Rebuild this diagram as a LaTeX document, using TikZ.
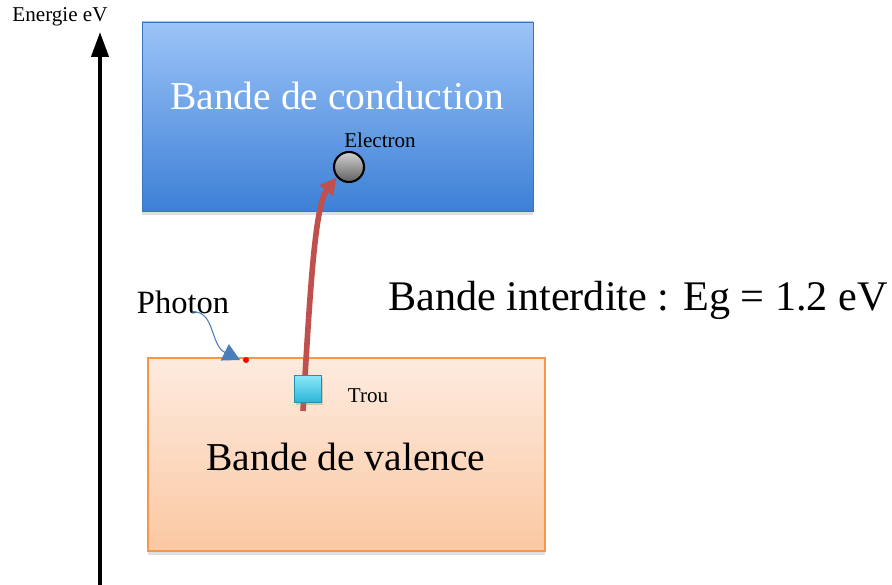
\documentclass[tikz,border=0pt]{standalone}
\usepackage{fontspec}
\setmainfont{Liberation Serif}
\usetikzlibrary{arrows.meta,shadows}

\definecolor{bleuH}{HTML}{9CC4F7}
\definecolor{bleuB}{HTML}{3D80D6}
\definecolor{bleuT}{HTML}{3A74BE}
\definecolor{orH}{HTML}{FDEBDF}
\definecolor{orB}{HTML}{FBC8A2}
\definecolor{orT}{HTML}{F79646}
\definecolor{cyH}{HTML}{8AE8F8}
\definecolor{cyB}{HTML}{2BB5D8}
\definecolor{rouge}{HTML}{C0504D}
\definecolor{bleuP}{HTML}{4A7EBB}

\begin{document}
\begin{tikzpicture}
        \tikzset{
            bc/.style={rectangle, draw=bleuT, top color=bleuH, bottom color=bleuB,
            minimum width=7.82cm, minimum height=3.78cm,
            drop shadow={opacity=0.25, shadow xshift=0pt, shadow yshift=-2pt}},
            bv/.style={rectangle, draw=orT, thick, top color=orH, bottom color=orB,
            minimum width=7.94cm, minimum height=3.86cm,
            drop shadow={opacity=0.25, shadow xshift=0pt, shadow yshift=-2pt}},
            el/.style={circle, minimum size=0.6cm, inner sep=0pt, draw=black,
            line width=1.2pt, top color=gray!35, bottom color=gray!75!black},
            tr/.style={rectangle, minimum size=0.54cm, inner sep=0pt, draw=cyB!80!black,
            top color=cyH, bottom color=cyB,
            drop shadow={opacity=0.3, shadow xshift=1pt, shadow yshift=-1.5pt}},
            petit/.style={font=\fontsize{12}{14}\selectfont, inner sep=1pt},
            grand/.style={font=\fontsize{22.5}{26}\selectfont},
            c1/.style={-{Triangle[length=0.5cm, width=0.34cm]}, line width=2.3pt},
            c2/.style={-{Triangle[length=0.34cm, width=0.32cm]}, line width=3.2pt, rouge},
            c3/.style={-{Triangle[length=0.34cm, width=0.36cm]}, bleuP, line width=0.6pt}
            }

            \useasboundingbox (0,0) rectangle (17.84,11.7);

            % axe des energies
            \coordinate (a0) at (2,0);
            \node[petit] (ax) at (1.2,11.36) {Energie eV};
            \draw[c1] (a0) -- (2,11.06);

            % bandes
            \node[bc] (b1) at (6.75,9.37) {};
            \node[grand, white] (b1t) at (6.74,9.78) {Bande de conduction};
            \node[bv] (b2) at (6.93,2.61) {};
            \node[grand] (b2t) at (6.92,2.56) {Bande de valence};

            % electron et trou
            \node[el] (e1) at (6.98,8.36) {};
            \node[petit] (e1t) at (7.6,8.9) {Electron};
            \coordinate (r0) at (6.06,3.48);
            \draw[c2] (r0) .. controls (6.2,5.9) and (6.3,7.6) .. (e1.-140);
            \node[tr] (t1) at (6.16,3.92) {};
            \node[petit] (t1t) at (7.36,3.78) {Trou};

            % photon
            \node[font=\fontsize{18.5}{22}\selectfont] (ph) at (3.66,5.66) {Photon};
            \coordinate (p1) at (4.8,4.5);
            \draw[c3] (3.84,5.46) .. controls (4.3,5.5) and (4.2,4.8) .. (p1);
            \fill[red] (4.92,4.5) circle (0.06);

            \node[font=\fontsize{24}{28}\selectfont] (bi) at (12.76,5.7) {Bande interdite : Eg = 1.2 eV};
        \end{tikzpicture}
\end{document}
